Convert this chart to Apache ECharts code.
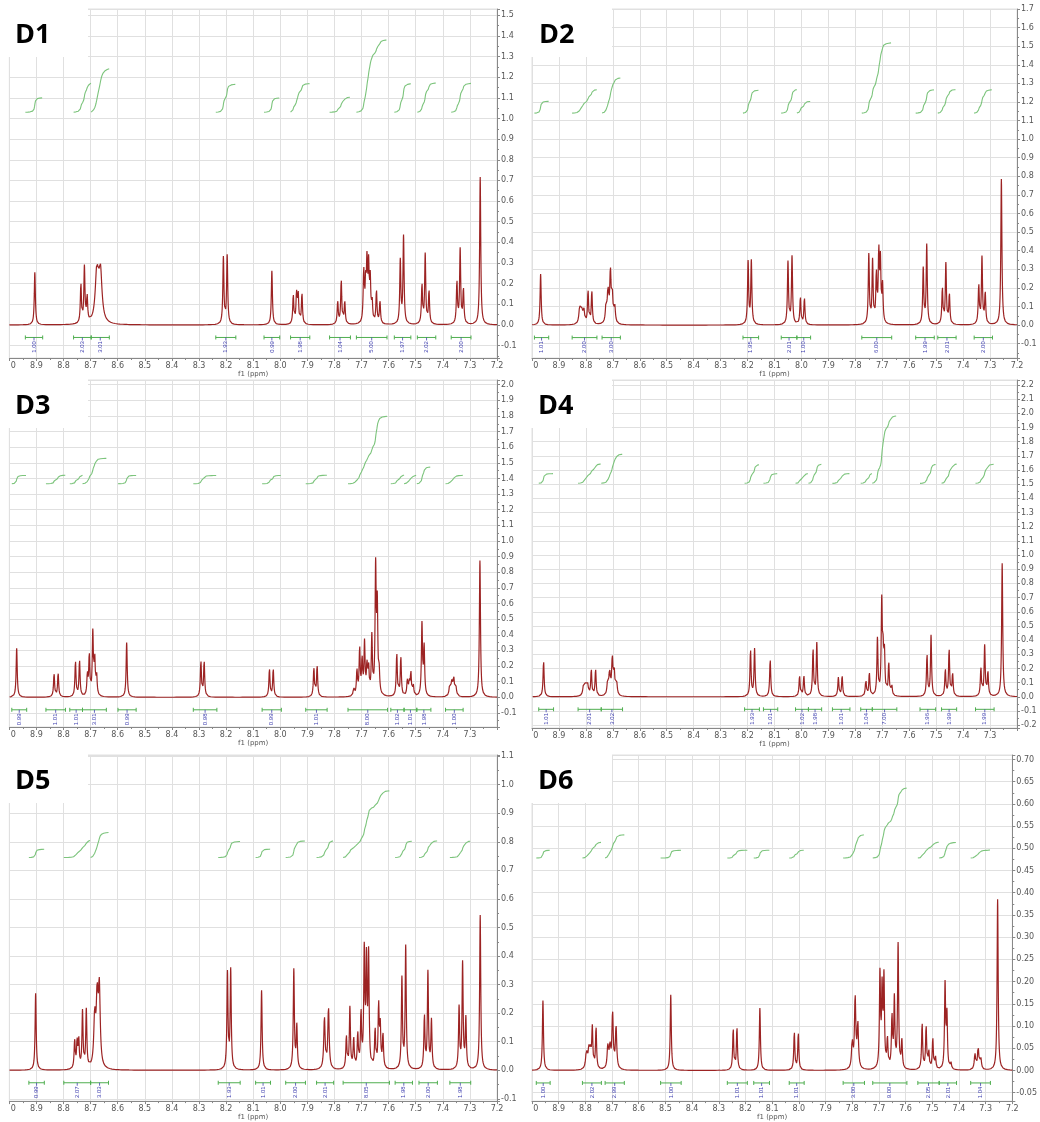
<!DOCTYPE html>
<html><head><meta charset="utf-8">
<script src="https://cdn.jsdelivr.net/npm/echarts@6/dist/echarts.min.js"></script>
<style>html,body{margin:0;padding:0;background:#fff}#c{width:1040px;height:1122px}</style>
</head><body><div id="c"></div>
<script>
// ---------- DATA ----------
const panelNames = ['D1', 'D2', 'D3', 'D4', 'D5', 'D6'];
const ppmRange = [7.2, 9.0];
const xAxisTitle = 'f1 (ppm)';

// peaks: [ppm, height, optional half-width (ppm)]
const d1Peaks = [
  [8.906, 0.254],
  [8.736, 0.19], [8.723, 0.27], [8.713, 0.125],
  [8.677, 0.245, 0.007], [8.664, 0.245, 0.007],
  [8.210, 0.324], [8.196, 0.333],
  [8.031, 0.262],
  [7.952, 0.14], [7.940, 0.145], [7.934, 0.145], [7.920, 0.15],
  [7.788, 0.11], [7.775, 0.215], [7.762, 0.11],
  [7.692, 0.25], [7.685, 0.17], [7.680, 0.27], [7.674, 0.26], [7.668, 0.20], [7.661, 0.10], [7.645, 0.16], [7.632, 0.11],
  [7.557, 0.307], [7.545, 0.425],
  [7.477, 0.19], [7.465, 0.337], [7.451, 0.162],
  [7.348, 0.205], [7.336, 0.36], [7.324, 0.17],
  [7.262, 0.715]
];
const d1Integrals = [
  [8.941, 8.877, '1.00'], [8.763, 8.698, '2.03'], [8.698, 8.631, '3.01'], [8.238, 8.164, '1.93'],
  [8.060, 8.002, '0.99'], [7.962, 7.891, '1.98'], [7.818, 7.741, '1.04'], [7.719, 7.606, '5.00'],
  [7.579, 7.518, '1.97'], [7.494, 7.426, '2.02'], [7.369, 7.296, '2.00']
];

const d2Peaks = [
  [8.968, 0.274],
  [8.823, 0.085, 0.0035], [8.816, 0.07, 0.0035], [8.808, 0.08, 0.0035], [8.792, 0.18], [8.778, 0.18],
  [8.725, 0.10, 0.003], [8.718, 0.17, 0.003], [8.709, 0.27, 0.003], [8.702, 0.14, 0.003], [8.693, 0.09, 0.003],
  [8.198, 0.337], [8.186, 0.34],
  [8.050, 0.337], [8.035, 0.366],
  [8.004, 0.147], [7.989, 0.143],
  [7.750, 0.373], [7.736, 0.337], [7.722, 0.26], [7.713, 0.37], [7.707, 0.32], [7.699, 0.20],
  [7.548, 0.30], [7.535, 0.427],
  [7.477, 0.194], [7.464, 0.326], [7.451, 0.163],
  [7.342, 0.21], [7.330, 0.358], [7.318, 0.17],
  [7.258, 0.785]
];
const d2Integrals = [
  [8.991, 8.938, '1.01'], [8.851, 8.759, '2.00'], [8.740, 8.672, '3.00'], [8.217, 8.159, '1.95'],
  [8.075, 8.017, '2.01'], [8.017, 7.966, '1.00'], [7.776, 7.665, '6.00'], [7.576, 7.507, '1.99'],
  [7.494, 7.426, '2.01'], [7.359, 7.291, '2.00']
];

const d3Peaks = [
  [8.973, 0.313],
  [8.835, 0.149], [8.820, 0.153],
  [8.756, 0.228], [8.741, 0.234],
  [8.712, 0.13], [8.705, 0.26], [8.692, 0.40], [8.685, 0.23], [8.678, 0.13],
  [8.567, 0.35],
  [8.293, 0.228], [8.281, 0.228],
  [8.040, 0.18], [8.026, 0.18],
  [7.876, 0.185], [7.864, 0.20],
  [7.729, 0.05], [7.717, 0.16], [7.707, 0.30], [7.698, 0.22], [7.689, 0.33], [7.680, 0.18], [7.674, 0.17],
  [7.662, 0.37], [7.648, 0.80], [7.642, 0.55], [7.635, 0.13],
  [7.570, 0.277], [7.555, 0.256],
  [7.531, 0.10], [7.524, 0.09], [7.518, 0.15], [7.509, 0.07],
  [7.477, 0.46], [7.469, 0.31],
  [7.374, 0.08, 0.003], [7.367, 0.08, 0.003], [7.360, 0.12, 0.003], [7.352, 0.06, 0.003],
  [7.263, 0.875]
];
const d3Integrals = [
  [8.991, 8.936, '0.99'], [8.865, 8.793, '1.01'], [8.777, 8.730, '1.01'], [8.730, 8.642, '3.01'],
  [8.599, 8.532, '0.99'], [8.321, 8.234, '0.98'], [8.067, 7.996, '0.99'], [7.906, 7.827, '1.01'],
  [7.750, 7.604, '8.00'], [7.592, 7.543, '1.02'], [7.543, 7.496, '1.01'], [7.496, 7.444, '1.98'],
  [7.390, 7.325, '1.00']
];

const d4Peaks = [
  [8.957, 0.254],
  [8.808, 0.085, 0.0035], [8.801, 0.07, 0.0035], [8.794, 0.08, 0.0035], [8.780, 0.185], [8.764, 0.19],
  [8.719, 0.10, 0.003], [8.712, 0.16, 0.003], [8.702, 0.25, 0.003], [8.695, 0.16, 0.003], [8.686, 0.09, 0.003],
  [8.189, 0.33], [8.174, 0.336],
  [8.116, 0.266],
  [8.007, 0.146], [7.991, 0.146],
  [7.957, 0.334], [7.943, 0.376],
  [7.863, 0.134], [7.849, 0.146],
  [7.761, 0.118], [7.748, 0.165],
  [7.718, 0.40], [7.702, 0.645], [7.697, 0.26], [7.692, 0.28], [7.676, 0.23], [7.665, 0.08],
  [7.534, 0.294], [7.519, 0.428],
  [7.466, 0.188], [7.452, 0.334], [7.439, 0.16],
  [7.334, 0.20], [7.320, 0.357], [7.308, 0.17],
  [7.255, 0.94]
];
const d4Integrals = [
  [8.975, 8.920, '1.01'], [8.829, 8.743, '2.01'], [8.743, 8.664, '3.02'], [8.211, 8.156, '1.93'],
  [8.141, 8.088, '1.01'], [8.022, 7.974, '1.02'], [7.974, 7.925, '1.98'], [7.885, 7.820, '1.01'],
  [7.780, 7.737, '1.04'], [7.737, 7.646, '7.00'], [7.560, 7.502, '1.96'], [7.480, 7.424, '1.99'],
  [7.354, 7.285, '1.99']
];

const d5Peaks = [
  [8.903, 0.269],
  [8.759, 0.10], [8.750, 0.09], [8.744, 0.10], [8.730, 0.20], [8.716, 0.205],
  [8.685, 0.17, 0.004], [8.676, 0.23, 0.004], [8.668, 0.27, 0.004],
  [8.195, 0.337], [8.183, 0.347],
  [8.069, 0.279],
  [7.950, 0.35], [7.939, 0.15],
  [7.837, 0.18, 0.003], [7.822, 0.215, 0.003],
  [7.756, 0.115], [7.743, 0.215], [7.729, 0.105], [7.714, 0.12], [7.702, 0.19], [7.690, 0.40], [7.682, 0.36],
  [7.674, 0.39], [7.650, 0.135], [7.637, 0.22], [7.631, 0.14], [7.621, 0.12],
  [7.551, 0.318], [7.537, 0.43],
  [7.468, 0.188], [7.455, 0.339], [7.442, 0.17],
  [7.340, 0.215], [7.327, 0.37], [7.315, 0.176],
  [7.262, 0.542]
];
const d5Integrals = [
  [8.928, 8.871, '0.99'], [8.799, 8.700, '2.07'], [8.700, 8.634, '3.03'], [8.229, 8.148, '1.93'],
  [8.091, 8.036, '1.01'], [7.980, 7.907, '2.00'], [7.866, 7.803, '2.01'], [7.768, 7.597, '8.05'],
  [7.576, 7.512, '1.98'], [7.488, 7.420, '2.00'], [7.374, 7.297, '1.98']
];

const d6Peaks = [
  [8.959, 0.157],
  [8.796, 0.04, 0.0035], [8.787, 0.04, 0.0035], [8.781, 0.035, 0.0035], [8.774, 0.09], [8.760, 0.095],
  [8.716, 0.05, 0.003], [8.708, 0.05, 0.003], [8.698, 0.125, 0.003], [8.685, 0.095, 0.003],
  [8.480, 0.17],
  [8.246, 0.093], [8.232, 0.096],
  [8.146, 0.14],
  [8.017, 0.086], [8.002, 0.084],
  [7.800, 0.06, 0.003], [7.789, 0.16, 0.003], [7.779, 0.10, 0.003],
  [7.696, 0.21], [7.688, 0.17], [7.681, 0.20], [7.668, 0.065], [7.651, 0.115], [7.642, 0.155],
  [7.628, 0.28], [7.614, 0.065],
  [7.538, 0.105], [7.523, 0.097], [7.513, 0.04], [7.498, 0.07], [7.488, 0.028],
  [7.452, 0.19], [7.445, 0.12], [7.430, 0.015],
  [7.340, 0.035, 0.003], [7.328, 0.05, 0.003], [7.318, 0.025, 0.003],
  [7.255, 0.385]
];
const d6Integrals = [
  [8.984, 8.932, '1.00'], [8.811, 8.740, '2.02'], [8.726, 8.654, '2.99'], [8.518, 8.441, '1.00'],
  [8.268, 8.193, '1.01'], [8.169, 8.110, '1.01'], [8.036, 7.980, '1.01'], [7.834, 7.754, '3.00'],
  [7.723, 7.595, '9.00'], [7.554, 7.474, '2.05'], [7.474, 7.409, '2.01'], [7.356, 7.282, '1.04']
];

const allPeaks = [d1Peaks, d2Peaks, d3Peaks, d4Peaks, d5Peaks, d6Peaks];
const allIntegrals = [d1Integrals, d2Integrals, d3Integrals, d4Integrals, d5Integrals, d6Integrals];

// ---------- LAYOUT / STYLE ----------
const layout = [
  {grid: {left: 8, top: 9, width: 489, height: 349}, y: [-0.16, 1.53], step: 0.1, dec: 1, intBase: 1.03, intK: 0.07, hide72: false, text: [15, 35]},
  {grid: {left: 532, top: 9, width: 485, height: 349}, y: [-0.177, 1.70], step: 0.1, dec: 1, intBase: 1.14, intK: 0.063, hide72: false, text: [539, 35]},
  {grid: {left: 8, top: 380, width: 489, height: 347}, y: [-0.19, 2.03], step: 0.1, dec: 1, intBase: 1.366, intK: 0.054, hide72: true, text: [15, 406]},
  {grid: {left: 532, top: 380, width: 485, height: 348}, y: [-0.22, 2.235], step: 0.1, dec: 1, intBase: 1.506, intK: 0.068, hide72: true, text: [538, 406]},
  {grid: {left: 8, top: 755, width: 489, height: 348}, y: [-0.108, 1.104], step: 0.1, dec: 1, intBase: 0.745, intK: 0.029, hide72: false, text: [15, 781]},
  {grid: {left: 532, top: 755, width: 485, height: 348}, y: [-0.069, 0.71], step: 0.05, dec: 2, intBase: 0.478, intK: 0.0175, hide72: false, text: [538, 781]}
];
const GAMMA = 0.0024;
const STEP = 0.0005;
const SPEC_COLOR = '#9c2323';
const INT_COLOR = '#7cc47c';
const BAR_COLOR = '#4fae4f';
const LABEL_COLOR = '#4040b0';
const GRID_COLOR = '#e0e0e0';
const AXIS_TEXT = '#555';

function spectrum(peaks) {
  const pts = [];
  const n = Math.round((ppmRange[1] - ppmRange[0]) / STEP);
  for (let i = 0; i <= n; i++) {
    const x = ppmRange[0] + i * STEP;
    let y = 0;
    for (const p of peaks) {
      const g = p[2] || GAMMA;
      const d = (x - p[0]) / g;
      y += p[1] / (1 + d * d);
    }
    pts.push([+x.toFixed(4), y]);
  }
  return pts;
}

function integralCurves(spec, ints, base, k) {
  return ints.map(([a, b, lab]) => {
    const seg = spec.filter(p => p[0] <= a && p[0] >= b).sort((p, q) => q[0] - p[0]);
    const total = seg.reduce((s, p) => s + p[1], 0);
    let cum = 0;
    return seg.map(p => { cum += p[1]; return [p[0], base + parseFloat(lab) * k * cum / total]; });
  });
}

const grids = [], xAxes = [], yAxes = [], series = [], graphics = [];

layout.forEach((L, i) => {
  grids.push(Object.assign({show: true, borderColor: GRID_COLOR, borderWidth: 1, backgroundColor: 'transparent'}, L.grid));
  xAxes.push({
    type: 'value', gridIndex: i, inverse: true, min: ppmRange[0], max: ppmRange[1], interval: 0.1,
    position: 'bottom',
    name: xAxisTitle, nameLocation: 'middle', nameGap: 10,
    nameTextStyle: {fontSize: 7, color: AXIS_TEXT, fontFamily: 'DejaVu Sans'},
    axisLine: {onZero: false, lineStyle: {color: '#888', width: 1}},
    axisTick: {length: 3, lineStyle: {color: '#888'}},
    minorTick: {show: true, splitNumber: 2, length: 2, lineStyle: {color: '#888'}},
    splitLine: {show: true, lineStyle: {color: GRID_COLOR, width: 1}},
    axisLabel: {
      fontSize: 8, color: AXIS_TEXT, margin: 4, fontFamily: 'DejaVu Sans',
      showMinLabel: !L.hide72,
      formatter: v => Math.abs(v - 9) < 1e-6 ? '{h|9.}0' : v.toFixed(1),
      rich: {h: {color: 'rgba(0,0,0,0)', fontSize: 8, fontFamily: 'DejaVu Sans'}}
    }
  });
  yAxes.push({
    type: 'value', gridIndex: i, position: 'right', min: L.y[0], max: L.y[1],
    splitNumber: Math.round((L.y[1] - L.y[0]) / L.step), minInterval: L.step, maxInterval: L.step,
    axisLine: {show: true, lineStyle: {color: '#888', width: 1}},
    axisTick: {show: true, length: 3, lineStyle: {color: '#888'}},
    minorTick: {show: true, splitNumber: 2, length: 2, lineStyle: {color: '#888'}},
    splitLine: {show: true, lineStyle: {color: GRID_COLOR, width: 1}},
    axisLabel: {
      fontSize: 8, color: AXIS_TEXT, margin: 4, fontFamily: 'DejaVu Sans',
      formatter: v => Math.abs(v / L.step - Math.round(v / L.step)) > 1e-6 ? '' : v.toFixed(L.dec)
    }
  });
  const spec = spectrum(allPeaks[i]);
  series.push({
    type: 'line', xAxisIndex: i, yAxisIndex: i, data: spec, showSymbol: false, silent: true,
    lineStyle: {color: SPEC_COLOR, width: 1.2}, z: 3
  });
  integralCurves(spec, allIntegrals[i], L.intBase, L.intK).forEach(curve => {
    series.push({
      type: 'line', xAxisIndex: i, yAxisIndex: i, data: curve, showSymbol: false, silent: true,
      lineStyle: {color: INT_COLOR, width: 1.1}, z: 3
    });
  });
  series.push({
    type: 'custom', xAxisIndex: i, yAxisIndex: i, data: allIntegrals[i], silent: true, clip: false, z: 4,
    renderItem: (params, api) => {
      const p1 = api.coord([api.value(0), 0]);
      const p2 = api.coord([api.value(1), 0]);
      const y = p1[1] + 12.5;
      const mid = (p1[0] + p2[0]) / 2;
      const ls = {stroke: BAR_COLOR, lineWidth: 1};
      return {type: 'group', children: [
        {type: 'line', shape: {x1: p1[0], y1: y, x2: p2[0], y2: y}, style: ls},
        {type: 'line', shape: {x1: p1[0], y1: y - 2, x2: p1[0], y2: y + 2}, style: ls},
        {type: 'line', shape: {x1: p2[0], y1: y - 2, x2: p2[0], y2: y + 2}, style: ls},
        {type: 'line', shape: {x1: mid, y1: y, x2: mid, y2: y + 3}, style: {stroke: LABEL_COLOR, lineWidth: 0.8}},
        {type: 'text', x: mid, y: y + 9.5, rotation: Math.PI / 2,
          style: {text: allIntegrals[i][params.dataIndex][2], fill: LABEL_COLOR, font: '6px "Liberation Sans"', align: 'center', verticalAlign: 'middle'}}
      ]};
    }
  });
  const left = L.grid.left < 100 ? 0 : 522;
  graphics.push({type: 'rect', z: 100, shape: {x: left, y: L.grid.top - 9, width: L.grid.left + 80 - left, height: 57}, style: {fill: '#fff'}});
  graphics.push({type: 'text', z: 101, x: L.text[0], y: L.text[1],
    style: {text: panelNames[i], font: 'bold 27px "Open Sans"', fill: '#000', verticalAlign: 'middle'}});
});

const chart = echarts.init(document.getElementById('c'), null, {renderer: 'canvas'});
chart.setOption({
  animation: false,
  backgroundColor: '#fff',
  grid: grids, xAxis: xAxes, yAxis: yAxes, series: series, graphic: graphics
});
</script>
</body></html>
